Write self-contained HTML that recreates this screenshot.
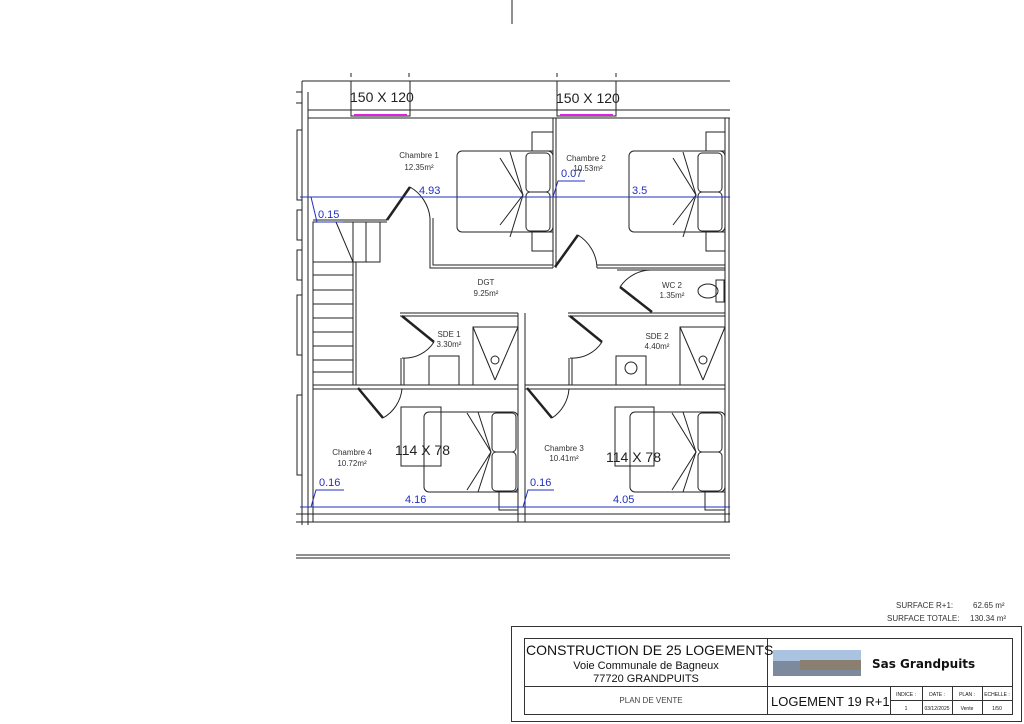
<!DOCTYPE html>
<html><head><meta charset="utf-8"><style>
html,body{margin:0;padding:0;background:#fff;}
svg{display:block;font-family:"Liberation Sans",sans-serif;}
</style></head><body>
<svg width="1024" height="724" viewBox="0 0 1024 724" xmlns="http://www.w3.org/2000/svg">
<g stroke="#222" stroke-width="1" fill="none">
<line x1="512" y1="0" x2="512" y2="24"/>
<!-- ticks -->
<line x1="351" y1="73" x2="351" y2="77"/><line x1="409" y1="73" x2="409" y2="77"/>
<line x1="557" y1="73" x2="557" y2="77"/><line x1="616" y1="73" x2="616" y2="77"/>
<!-- outer top -->
<line x1="302" y1="81" x2="730" y2="81"/>
<line x1="308" y1="110" x2="730" y2="110"/>
<line x1="308" y1="118" x2="730" y2="118"/>
<rect x="351" y="81" width="59" height="35"/>
<rect x="557" y="81" width="59" height="35"/>
<!-- left walls -->
<line x1="302" y1="81" x2="302" y2="525"/>
<line x1="308" y1="92" x2="308" y2="525"/>
<line x1="313" y1="222" x2="313" y2="522"/>
<line x1="296" y1="92" x2="302" y2="92"/><line x1="296" y1="103" x2="302" y2="103"/>
<rect x="297" y="130" width="5" height="70"/>
<rect x="297" y="210" width="5" height="30"/>
<rect x="297" y="250" width="5" height="30"/>
<rect x="297" y="295" width="5" height="60"/>
<rect x="297" y="395" width="5" height="80"/>
<!-- ch1/ch2 divider -->
<line x1="553" y1="118" x2="553" y2="268"/><line x1="556" y1="118" x2="556" y2="268"/>
<!-- ch1 bottom -->
<polyline points="430,218 430,268 553,268"/><polyline points="433,218 433,265 553,265"/>
<!-- door ch1 -->
<line x1="387" y1="220" x2="410" y2="187" stroke-width="2.5"/>
<path d="M410,187 A40,40 0 0 1 430,218"/>
<line x1="313" y1="222" x2="387" y2="222"/><line x1="313" y1="220" x2="387" y2="220"/>
<!-- stair -->
<rect x="313" y="222" width="67" height="40"/>
<line x1="336" y1="222" x2="353" y2="262"/>
<line x1="353" y1="222" x2="353" y2="385"/><line x1="366" y1="222" x2="366" y2="262"/>
<line x1="356" y1="262" x2="356" y2="385"/>
<line x1="313" y1="275" x2="353" y2="275"/><line x1="313" y1="290" x2="353" y2="290"/>
<line x1="313" y1="304" x2="353" y2="304"/><line x1="313" y1="318" x2="353" y2="318"/>
<line x1="313" y1="332" x2="353" y2="332"/><line x1="313" y1="346" x2="353" y2="346"/>
<line x1="313" y1="360" x2="353" y2="360"/><line x1="313" y1="372" x2="353" y2="372"/>
<!-- ch2 bottom and right -->
<polyline points="597,268 725,268"/><polyline points="597,265 725,265"/>
<line x1="725" y1="118" x2="725" y2="522"/><line x1="729" y1="118" x2="729" y2="522"/>
<line x1="556" y1="268" x2="556" y2="268"/>
<line x1="555" y1="267" x2="578" y2="235" stroke-width="2.5"/>
<path d="M578,235 A40,40 0 0 1 597,268"/>
<!-- WC -->
<line x1="617" y1="270" x2="725" y2="270"/>
<line x1="620" y1="287" x2="652" y2="312" stroke-width="2.5"/>
<path d="M620,287 A38,38 0 0 1 651,270"/>
<rect x="716" y="280" width="8" height="22"/><ellipse cx="708" cy="291" rx="10" ry="7"/>
<!-- SDE1 -->
<line x1="400" y1="313" x2="518" y2="313"/><line x1="400" y1="316" x2="518" y2="316"/>
<line x1="518" y1="313" x2="518" y2="522"/><line x1="525" y1="313" x2="525" y2="522"/>
<line x1="402" y1="316" x2="434" y2="342" stroke-width="2.5"/>
<path d="M434,342 A35,35 0 0 1 402,358"/>
<line x1="401" y1="358" x2="401" y2="385"/><line x1="404" y1="358" x2="404" y2="385"/>
<rect x="429" y="356" width="30" height="29"/>
<rect x="473" y="327" width="45" height="58"/>
<line x1="473" y1="327" x2="495" y2="380"/><line x1="518" y1="327" x2="495" y2="380"/>
<circle cx="495" cy="360" r="4"/>
<line x1="313" y1="385" x2="518" y2="385"/><line x1="313" y1="389" x2="518" y2="389"/>
<!-- SDE2 -->
<line x1="568" y1="313" x2="725" y2="313"/><line x1="568" y1="316" x2="725" y2="316"/>
<line x1="570" y1="316" x2="602" y2="342" stroke-width="2.5"/>
<path d="M602,342 A35,35 0 0 1 570,358"/>
<line x1="569" y1="358" x2="569" y2="385"/><line x1="572" y1="358" x2="572" y2="385"/>
<rect x="616" y="356" width="30" height="29"/><circle cx="631" cy="368" r="6"/>
<rect x="680" y="327" width="45" height="58"/>
<line x1="680" y1="327" x2="703" y2="380"/><line x1="725" y1="327" x2="703" y2="380"/>
<circle cx="703" cy="360" r="4"/>
<line x1="525" y1="385" x2="725" y2="385"/><line x1="525" y1="389" x2="725" y2="389"/>
<!-- doors bottom rooms -->
<line x1="358" y1="388" x2="383" y2="418" stroke-width="2.5"/>
<path d="M383,418 A38,38 0 0 0 402,389"/>
<line x1="527" y1="388" x2="552" y2="418" stroke-width="2.5"/>
<path d="M552,418 A38,38 0 0 0 569,389"/>
<!-- beds top -->
<rect x="457" y="151" width="96" height="81" rx="5"/>
<rect x="526" y="153" width="24" height="39" rx="4"/><rect x="526" y="192" width="24" height="39" rx="4"/>
<rect x="532" y="132" width="21" height="19"/><rect x="532" y="232" width="21" height="19"/>
<polyline points="500,158 523,195 500,225"/><polyline points="510,152 523,195 510,237"/>
<rect x="629" y="151" width="96" height="81" rx="5"/>
<rect x="698" y="153" width="24" height="39" rx="4"/><rect x="698" y="192" width="24" height="39" rx="4"/>
<rect x="706" y="132" width="19" height="19"/><rect x="706" y="232" width="19" height="19"/>
<polyline points="673,158 696,195 673,225"/><polyline points="683,152 696,195 683,237"/>
<!-- beds bottom -->
<rect x="424" y="412" width="94" height="80" rx="5"/>
<rect x="492" y="413" width="24" height="39" rx="4"/><rect x="492" y="452" width="24" height="39" rx="4"/>
<rect x="499" y="492" width="19" height="18"/>
<polyline points="467,413 491,452 467,490"/><polyline points="478,412 491,452 478,492"/>
<rect x="401" y="407" width="40" height="59"/>
<rect x="630" y="412" width="95" height="80" rx="5"/>
<rect x="698" y="413" width="24" height="39" rx="4"/><rect x="698" y="452" width="24" height="39" rx="4"/>
<rect x="705" y="492" width="20" height="18"/>
<polyline points="672,413 696,452 672,490"/><polyline points="683,412 696,452 683,492"/>
<rect x="615" y="407" width="39" height="59"/>
<!-- bottom walls -->
<line x1="296" y1="514" x2="730" y2="514"/>
<line x1="296" y1="522" x2="730" y2="522"/>
<line x1="296" y1="555" x2="730" y2="555"/><line x1="296" y1="558" x2="730" y2="558"/>
</g>
<!-- magenta windows -->
<line x1="354" y1="115" x2="407" y2="115" stroke="#e020e0" stroke-width="2"/>
<line x1="560" y1="115" x2="613" y2="115" stroke="#e020e0" stroke-width="2"/>
<!-- blue dims -->
<g stroke="#2030c0" stroke-width="1" fill="none">
<line x1="300" y1="197" x2="730" y2="197"/>
<line x1="300" y1="507" x2="730" y2="507"/>
<polyline points="311,197 317,222 343,222"/>
<polyline points="553,197 558,181 585,181"/>
<polyline points="311,507 316,490 344,490"/>
<polyline points="523,507 528,490 554,490"/>
</g>
<g fill="#2030c0" font-size="11">
<text x="419" y="194">4.93</text>
<text x="318" y="218">0.15</text>
<text x="561" y="177">0.07</text>
<text x="632" y="194">3.5</text>
<text x="319" y="486">0.16</text>
<text x="530" y="486">0.16</text>
<text x="405" y="503">4.16</text>
<text x="613" y="503">4.05</text>
</g>
<g fill="#222" font-size="14">
<text x="350" y="102">150 X 120</text>
<text x="556" y="103">150 X 120</text>
<text x="395" y="455">114 X 78</text>
<text x="606" y="462">114 X 78</text>
</g>
<g fill="#333" font-size="8" text-anchor="middle">
<text x="419" y="158">Chambre 1</text><text x="419" y="170">12.35m²</text>
<text x="586" y="161">Chambre 2</text><text x="588" y="171">10.53m²</text>
<text x="486" y="285">DGT</text><text x="486" y="296">9.25m²</text>
<text x="672" y="288">WC 2</text><text x="672" y="298">1.35m²</text>
<text x="449" y="337">SDE 1</text><text x="449" y="347">3.30m²</text>
<text x="657" y="339">SDE 2</text><text x="657" y="349">4.40m²</text>
<text x="352" y="455">Chambre 4</text><text x="352" y="466">10.72m²</text>
<text x="564" y="451">Chambre 3</text><text x="564" y="461">10.41m²</text>
</g>
<!-- surfaces -->
<g fill="#333" font-size="8">
<text x="896" y="608">SURFACE R+1:</text><text x="973" y="608">62.65 m²</text>
<text x="887" y="621">SURFACE TOTALE:</text><text x="970" y="621">130.34 m²</text>
</g>
<!-- title block -->
<g stroke="#333" fill="none">
<rect x="511.5" y="626.5" width="510" height="95"/>
<rect x="524.5" y="638.5" width="488" height="76"/>
<line x1="524" y1="686.5" x2="1012" y2="686.5"/>
<line x1="767.5" y1="638" x2="767.5" y2="714"/>
<line x1="890.5" y1="686" x2="890.5" y2="714"/>
<line x1="922.5" y1="686" x2="922.5" y2="714"/>
<line x1="952.5" y1="686" x2="952.5" y2="714"/>
<line x1="982.5" y1="686" x2="982.5" y2="714"/>
<line x1="890" y1="700.5" x2="1012" y2="700.5"/>
</g>
<rect x="773" y="650" width="88" height="26" fill="#7d8a9e"/>
<rect x="773" y="650" width="88" height="11" fill="#a9c3e0"/>
<rect x="800" y="660" width="61" height="10" fill="#8a7f70"/>
<g fill="#111">
<text x="526" y="655" font-size="14">CONSTRUCTION DE 25 LOGEMENTS</text>
<text x="646" y="669" font-size="11" text-anchor="middle">Voie Communale de Bagneux</text>
<text x="646" y="682" font-size="11" text-anchor="middle">77720 GRANDPUITS</text>
<text x="651" y="703" font-size="8" text-anchor="middle" fill="#444">PLAN DE VENTE</text>
<text x="771" y="706" font-size="13">LOGEMENT 19 R+1</text>
<text x="872" y="668" font-size="12" font-weight="bold" font-family="DejaVu Sans">Sas Grandpuits</text>
<g font-size="5" text-anchor="middle">
<text x="906" y="696">INDICE :</text><text x="937" y="696">DATE :</text><text x="967" y="696">PLAN :</text><text x="997" y="696">ECHELLE :</text>
<text x="906" y="710">1</text><text x="937" y="710">03/12/2025</text><text x="967" y="710">Vente</text><text x="997" y="710">1/50</text>
</g>
</g>
</svg>
</body></html>
